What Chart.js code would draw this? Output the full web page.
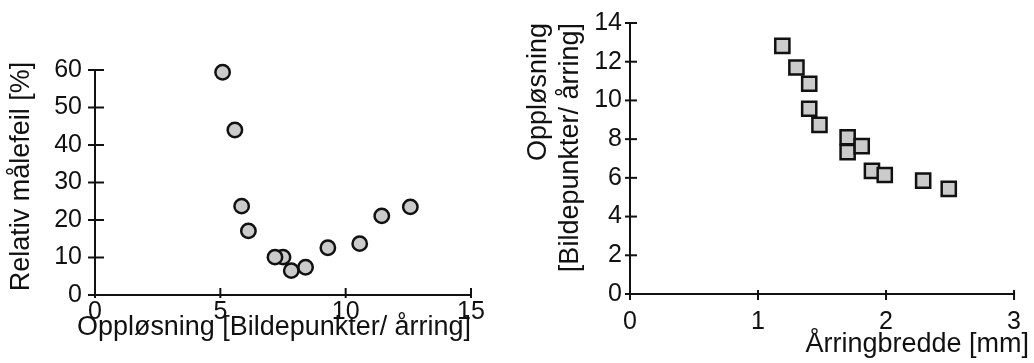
<!DOCTYPE html>
<html>
<head>
<meta charset="utf-8">
<script src="https://cdn.jsdelivr.net/npm/chart.js@4.4.1/dist/chart.umd.min.js"></script>
<style>
  html, body { margin: 0; padding: 0; background: #fff; }
  #wrap { position: relative; width: 1034px; height: 363px; }
  #boxLeft { position: absolute; left: 0; top: 0; width: 500px; height: 363px; }
  #boxRight { position: absolute; left: 500px; top: 0; width: 534px; height: 363px; }
</style>
</head>
<body>
<div id="wrap">
  <div id="boxLeft"><canvas id="chartLeft"></canvas></div>
  <div id="boxRight"><canvas id="chartRight"></canvas></div>
</div>
<script>
// venstre diagram: oppløsning mot relativ målefeil
const resX = [5.09, 5.58, 5.85, 6.12, 7.5, 7.18, 7.83, 8.4, 9.29, 10.56, 11.44, 12.58];
const errY = [59.4, 44.0, 23.7, 17.1, 10.1, 10.1, 6.5, 7.4, 12.6, 13.7, 21.1, 23.5];

// høyre diagram: årringbredde mot oppløsning
const widthX = [1.19, 1.30, 1.40, 1.40, 1.48, 1.70, 1.70, 1.81, 1.89, 1.99, 2.29, 2.49];
const resY = [12.82, 11.7, 10.86, 9.57, 8.74, 8.1, 7.33, 7.64, 6.36, 6.15, 5.86, 5.43];

const leftXTicks = [0, 5, 10, 15];
const leftYTicks = [0, 10, 20, 30, 40, 50, 60];
const rightXTicks = [0, 1, 2, 3];
const rightYTicks = [0, 2, 4, 6, 8, 10, 12, 14];

const ink = '#111';
const fillGray = '#cbcbcb';
const tickFont = { family: 'Liberation Sans, Arial, sans-serif', size: 25 };
const titleFont = { family: 'Liberation Sans, Arial, sans-serif', size: 27, lineHeight: 1.2 };

function toPoints(xs, ys) {
    return xs.map((x, i) => ({ x: x, y: ys[i] }));
}

// akselinjer + tick-streker som krysser aksen, og flytting av aksetitlene
const crossTicks = {
    id: 'crossTicks',
    afterLayout(chart, args, opts) {
        // bare titlene bruker disse kantene etter layout
        const sh = opts.shift || {};
        const sx = chart.scales.x, sy = chart.scales.y;
        sx.left += sh.xLeft || 0;
        sx.right += sh.xRight || 0;
        sy.top += sh.yTop || 0;
        sy.bottom += sh.yBottom || 0;
    },
    afterDraw(chart, args, opts) {
        const ctx = chart.ctx;
        const area = chart.chartArea;
        const sx = chart.scales.x, sy = chart.scales.y;
        ctx.save();
        ctx.strokeStyle = ink;
        ctx.lineWidth = 2;
        ctx.lineCap = 'square';
        ctx.beginPath();
        ctx.moveTo(area.left, area.top);
        ctx.lineTo(area.left, area.bottom);
        ctx.lineTo(area.right, area.bottom);
        ctx.stroke();
        ctx.lineCap = 'butt';
        sx.ticks.forEach(t => {
            const px = sx.getPixelForValue(t.value);
            ctx.beginPath();
            ctx.moveTo(px, area.bottom - opts.xIn);
            ctx.lineTo(px, area.bottom + opts.xOut);
            ctx.stroke();
        });
        sy.ticks.forEach(t => {
            const py = sy.getPixelForValue(t.value);
            ctx.beginPath();
            ctx.moveTo(area.left - opts.yOut, py);
            ctx.lineTo(area.left + opts.yIn, py);
            ctx.stroke();
        });
        ctx.restore();
    }
};

function makeChart(id, cfg) {
    return new Chart(document.getElementById(id), {
        type: 'scatter',
        data: {
            datasets: [{
                data: cfg.points,
                pointStyle: cfg.style,
                pointRadius: cfg.radius,
                pointHoverRadius: cfg.radius,
                backgroundColor: fillGray,
                borderColor: ink,
                borderWidth: 2.5,
                clip: false
            }]
        },
        options: {
            responsive: true,
            maintainAspectRatio: false,
            animation: false,
            layout: { padding: cfg.padding },
            plugins: {
                legend: { display: false },
                tooltip: { enabled: false },
                crossTicks: cfg.ticksLen
            },
            scales: {
                x: {
                    type: 'linear',
                    min: cfg.xTicks[0],
                    max: cfg.xTicks[cfg.xTicks.length - 1],
                    afterBuildTicks: s => { s.ticks = cfg.xTicks.map(v => ({ value: v })); },
                    afterFit: s => { s.height = cfg.xHeight; },
                    grid: { drawOnChartArea: false, drawTicks: false },
                    border: { display: false },
                    ticks: { color: ink, font: tickFont, padding: cfg.xPad, maxRotation: 0 },
                    title: {
                        display: true, text: cfg.xTitle, color: ink, font: titleFont,
                        align: cfg.xAlign, padding: { top: 0, bottom: cfg.xTitleBottom }
                    }
                },
                y: {
                    type: 'linear',
                    min: cfg.yTicks[0],
                    max: cfg.yTicks[cfg.yTicks.length - 1],
                    afterBuildTicks: s => { s.ticks = cfg.yTicks.map(v => ({ value: v })); },
                    afterFit: s => { s.width = cfg.yWidth; },
                    grid: { drawOnChartArea: false, drawTicks: false },
                    border: { display: false },
                    ticks: { color: ink, font: tickFont, padding: cfg.yPad },
                    title: {
                        display: true, text: cfg.yTitle, color: ink, font: titleFont,
                        align: cfg.yAlign, padding: { top: cfg.yTitleTop, bottom: 0 }
                    }
                }
            }
        },
        plugins: [crossTicks]
    });
}

makeChart('chartLeft', {
    points: toPoints(resX, errY),
    style: 'circle',
    radius: 7.2,
    padding: { left: 0, top: 70, right: 29, bottom: 0 },
    xTicks: leftXTicks,
    yTicks: leftYTicks,
    xHeight: 68,
    yWidth: 95,
    xPad: 2,
    yPad: 13,
    xTitle: 'Oppløsning [Bildepunkter/ årring]',
    yTitle: 'Relativ målefeil [%]',
    xAlign: 'center',
    yAlign: 'center',
    xTitleBottom: 19,
    yTitleTop: 5,
    ticksLen: { xIn: 7, xOut: 3, yIn: 9, yOut: 7, shift: { xLeft: -18, yTop: -12 } }
});

makeChart('chartRight', {
    points: toPoints(widthX, resY),
    style: 'rect',
    radius: 10,
    padding: { left: 0, top: 19, right: 17, bottom: 0 },
    xTicks: rightXTicks,
    yTicks: rightYTicks,
    xHeight: 69,
    yWidth: 130,
    xPad: 13,
    yPad: 8,
    xTitle: 'Årringbredde [mm]',
    yTitle: ['Oppløsning', '[Bildepunkter/ årring]'],
    xAlign: 'end',
    yAlign: 'end',
    xTitleBottom: 2,
    yTitleTop: 22,
    ticksLen: { xIn: 4, xOut: 6, yIn: 7, yOut: 5, shift: { xRight: 15 } }
});
</script>
</body>
</html>
